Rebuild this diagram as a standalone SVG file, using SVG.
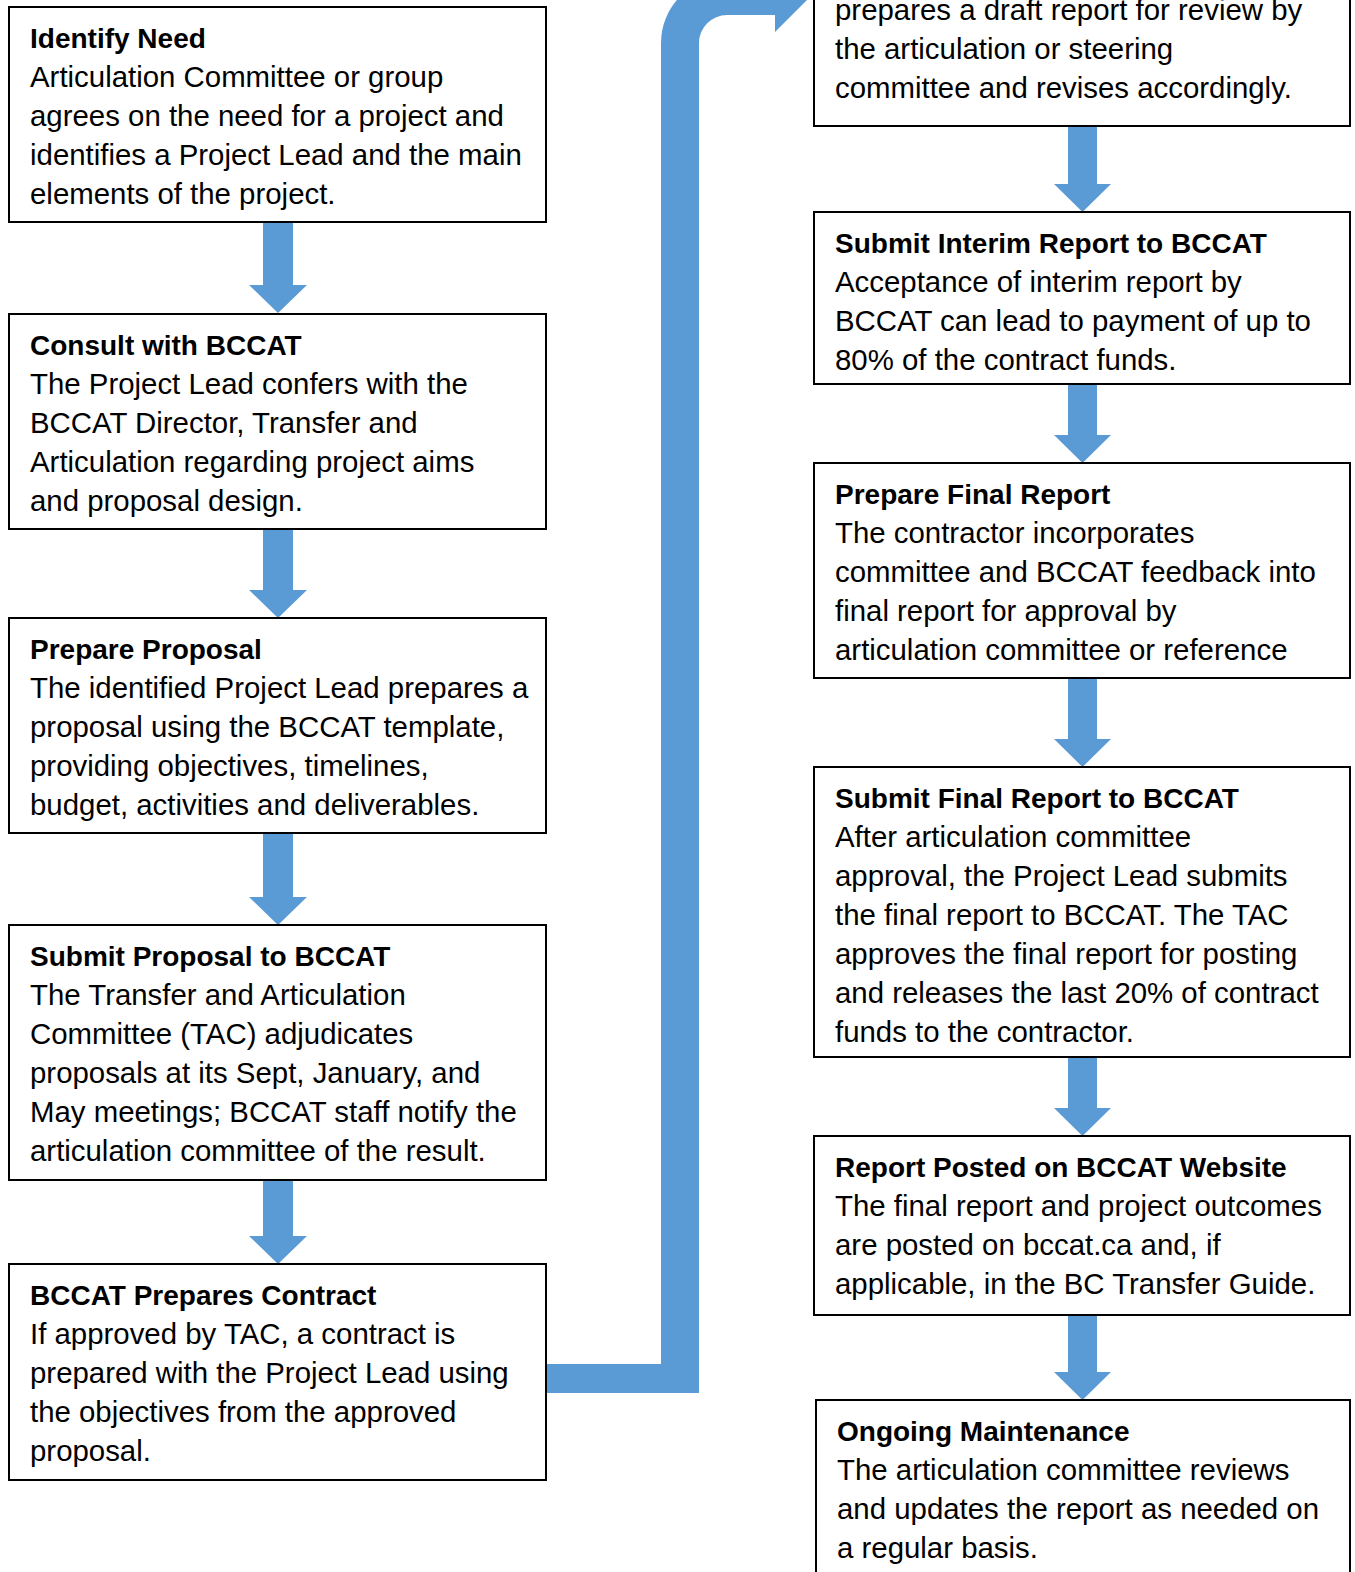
<svg xmlns="http://www.w3.org/2000/svg" width="1355" height="1572" viewBox="0 0 1355 1572">
<style>
.box{fill:#fff;stroke:#000;stroke-width:2}
.arr{fill:#5B9BD5}
text{font-family:"Liberation Sans",Arial,sans-serif;font-size:29.4px;fill:#000}
.t{font-weight:bold;font-size:28px}
</style>
<rect width="1355" height="1572" fill="#fff"/>
<g id="connectors">
<path class="arr" d="M546 1364 H661 V43 A66 66 0 0 1 727 -23 H775 V-40 L811 -4 L775 32 V15 H727 A28 28 0 0 0 699 43 V1393 H546 Z"/>
<polygon class="arr" points="263,222 293,222 293,285 307,285 278,313 249,285 263,285"/>
<polygon class="arr" points="263,529 293,529 293,590 307,590 278,618 249,590 263,590"/>
<polygon class="arr" points="263,833 293,833 293,897 307,897 278,925 249,897 263,897"/>
<polygon class="arr" points="263,1180 293,1180 293,1236 307,1236 278,1264 249,1236 263,1236"/>
<polygon class="arr" points="1068,126 1097,126 1097,184 1111,184 1082.5,212 1054,184 1068,184"/>
<polygon class="arr" points="1068,384 1097,384 1097,435 1111,435 1082.5,463 1054,435 1068,435"/>
<polygon class="arr" points="1068,678 1097,678 1097,739 1111,739 1082.5,767 1054,739 1068,739"/>
<polygon class="arr" points="1068,1057 1097,1057 1097,1108 1111,1108 1082.5,1136 1054,1108 1068,1108"/>
<polygon class="arr" points="1068,1315 1097,1315 1097,1372 1111,1372 1082.5,1400 1054,1372 1068,1372"/>
</g>
<g id="n1">
<rect class="box" x="9" y="7" width="537" height="215"/>
<text x="30" y="48" class="t">Identify Need</text>
<text x="30" y="87">Articulation Committee or group</text>
<text x="30" y="126">agrees on the need for a project and</text>
<text x="30" y="165">identifies a Project Lead and the main</text>
<text x="30" y="204">elements of the project.</text>
</g>
<g id="n2">
<rect class="box" x="9" y="314" width="537" height="215"/>
<text x="30" y="355" class="t">Consult with BCCAT</text>
<text x="30" y="394">The Project Lead confers with the</text>
<text x="30" y="433">BCCAT Director, Transfer and</text>
<text x="30" y="472">Articulation regarding project aims</text>
<text x="30" y="511">and proposal design.</text>
</g>
<g id="n3">
<rect class="box" x="9" y="618" width="537" height="215"/>
<text x="30" y="659" class="t">Prepare Proposal</text>
<text x="30" y="698">The identified Project Lead prepares a</text>
<text x="30" y="737">proposal using the BCCAT template,</text>
<text x="30" y="776">providing objectives, timelines,</text>
<text x="30" y="815">budget, activities and deliverables.</text>
</g>
<g id="n4">
<rect class="box" x="9" y="925" width="537" height="255"/>
<text x="30" y="966" class="t">Submit Proposal to BCCAT</text>
<text x="30" y="1005">The Transfer and Articulation</text>
<text x="30" y="1044">Committee (TAC) adjudicates</text>
<text x="30" y="1083">proposals at its Sept, January, and</text>
<text x="30" y="1122">May meetings; BCCAT staff notify the</text>
<text x="30" y="1161">articulation committee of the result.</text>
</g>
<g id="n5">
<rect class="box" x="9" y="1264" width="537" height="216"/>
<text x="30" y="1305" class="t">BCCAT Prepares Contract</text>
<text x="30" y="1344">If approved by TAC, a contract is</text>
<text x="30" y="1383">prepared with the Project Lead using</text>
<text x="30" y="1422">the objectives from the approved</text>
<text x="30" y="1461">proposal.</text>
</g>
<g id="n6">
<rect class="box" x="814" y="-60" width="536" height="186"/>
<text x="835" y="20">prepares a draft report for review by</text>
<text x="835" y="59">the articulation or steering</text>
<text x="835" y="98">committee and revises accordingly.</text>
</g>
<g id="n7">
<rect class="box" x="814" y="212" width="536" height="172"/>
<text x="835" y="253" class="t">Submit Interim Report to BCCAT</text>
<text x="835" y="292">Acceptance of interim report by</text>
<text x="835" y="331">BCCAT can lead to payment of up to</text>
<text x="835" y="370">80% of the contract funds.</text>
</g>
<g id="n8">
<rect class="box" x="814" y="463" width="536" height="215"/>
<text x="835" y="504" class="t">Prepare Final Report</text>
<text x="835" y="543">The contractor incorporates</text>
<text x="835" y="582">committee and BCCAT feedback into</text>
<text x="835" y="621">final report for approval by</text>
<text x="835" y="660">articulation committee or reference</text>
</g>
<g id="n9">
<rect class="box" x="814" y="767" width="536" height="290"/>
<text x="835" y="808" class="t">Submit Final Report to BCCAT</text>
<text x="835" y="847">After articulation committee</text>
<text x="835" y="886">approval, the Project Lead submits</text>
<text x="835" y="925">the final report to BCCAT. The TAC</text>
<text x="835" y="964">approves the final report for posting</text>
<text x="835" y="1003">and releases the last 20% of contract</text>
<text x="835" y="1042">funds to the contractor.</text>
</g>
<g id="n10">
<rect class="box" x="814" y="1136" width="536" height="179"/>
<text x="835" y="1177" class="t">Report Posted on BCCAT Website</text>
<text x="835" y="1216">The final report and project outcomes</text>
<text x="835" y="1255">are posted on bccat.ca and, if</text>
<text x="835" y="1294">applicable, in the BC Transfer Guide.</text>
</g>
<g id="n11">
<rect class="box" x="816" y="1400" width="534" height="200"/>
<text x="837" y="1441" class="t">Ongoing Maintenance</text>
<text x="837" y="1480">The articulation committee reviews</text>
<text x="837" y="1519">and updates the report as needed on</text>
<text x="837" y="1558">a regular basis.</text>
</g>
</svg>
